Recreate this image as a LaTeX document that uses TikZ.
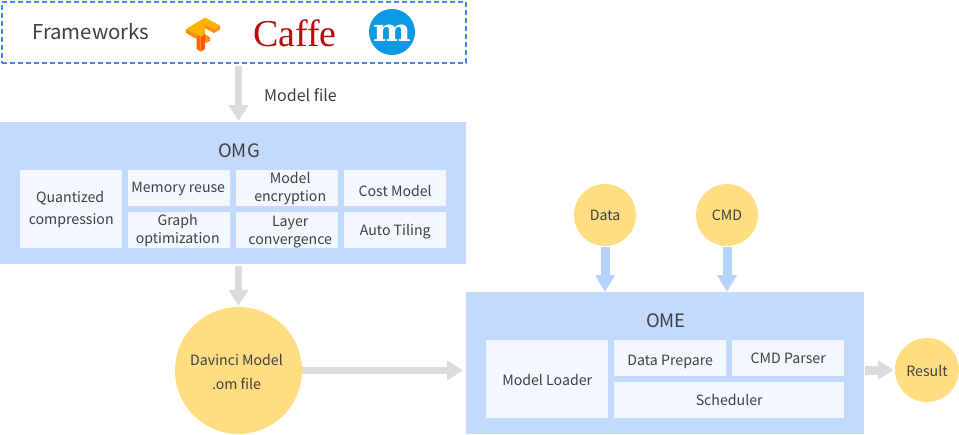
\documentclass[tikz,border=0pt]{standalone}
\usepackage{fontspec}
\setmainfont{Noto Sans CJK SC}
\newfontfamily\logofont{Liberation Serif}
\newfontfamily\mfont{DejaVu Serif}
\usetikzlibrary{arrows.meta}
\definecolor{txt}{HTML}{3C4043}
\definecolor{blockblue}{HTML}{C4D9FE}
\definecolor{innerblue}{HTML}{F3F8FF}
\definecolor{circyellow}{HTML}{FFDD80}
\definecolor{arrgray}{HTML}{DCDCDC}
\definecolor{arrblue}{HTML}{B5D2FF}
\definecolor{dashblue}{HTML}{3F86F7}
\definecolor{caffered}{HTML}{B80B0B}
\definecolor{mblue}{HTML}{0C9BE3}
\definecolor{tfyellow}{HTML}{FFB300}
\definecolor{tforange}{HTML}{FF9100}
\definecolor{tfdark}{HTML}{FF6A00}
\tikzset{
  block/.style={rectangle, fill=blockblue, inner sep=0pt, anchor=north west},
  inner/.style={rectangle, fill=innerblue, inner sep=0pt, anchor=north west, align=center, text=txt, font=\fontsize{14.15}{18}\selectfont},
  single/.style={text height=14pt, text depth=3pt},
  circ/.style={circle, fill=circyellow, inner sep=0pt, align=center, text=txt, font=\fontsize{14.15}{18}\selectfont},
  head/.style={text=txt, inner sep=0pt, font=\fontsize{18.5}{22}\selectfont},
  grayarrow/.style={draw=arrgray, line width=7.5pt, -{Triangle[width=19pt,length=16pt]}},
  bluearrow/.style={draw=arrblue, line width=9pt, -{Triangle[width=19pt,length=17pt]}},
}
\begin{document}
\begin{tikzpicture}[x=1pt,y=-1pt]
	\useasboundingbox (0,0) rectangle (959,434);
	
	% frameworks
	\node [rectangle, draw=dashblue, line width=2.4pt, dash pattern=on 5pt off 3pt, inner sep=0pt, anchor=north west, minimum width=464pt, minimum height=61pt] (fw) at (1,1) {};
	\node [text=txt, inner sep=0pt, anchor=west, font=\fontsize{20.4}{24}\selectfont] (fwtext) at (32,32) {Frameworks};
	\node [text=caffered, inner sep=0pt, font=\fontsize{38}{46}\logofont] (caffe) at (295,33) {Caffe};
	\node [circle, fill=mblue, inner sep=0pt, minimum size=46pt] (mlogo) at (392,32) {};
	\node [text=white, inner sep=0pt, font=\fontsize{31}{36}\mfont\bfseries] (mletter) at (392,33.5) {\scalebox{1.15}[1]{m}};
	
	% tf logo
	\fill [tfyellow] (186,29) -- (205,17.5) -- (220,25.5) -- (214,29) -- (205,24) -- (205,34.3) -- (196.7,34.3) -- (192,32) -- cycle;
	\fill [tforange] (186,29) -- (196.7,34.3) -- (196.7,39) -- (186,33) -- cycle;
	\fill [tforange] (205,24) -- (214,29) -- (220,25.5) -- (220,29.5) -- (214,33) -- (205,28) -- cycle;
	\fill [tfyellow] (196.7,34.3) -- (205,28) -- (205,34.3) -- (200.7,36.7) -- cycle;
	\fill [tfdark] (196.7,34.3) -- (200.7,36.7) -- (200.7,51.7) -- (196.7,49) -- cycle;
	\fill [tfdark!85!red] (200.7,36.7) -- (205,34.3) -- (205,49) -- (200.7,51.7) -- cycle;
	\fill [tforange] (205,34.3) -- (210,37.3) -- (210,41) -- (205,43.3) -- cycle;
	
	\node [inner, font=\fontsize{16}{18}\selectfont, anchor=west, fill=none] (mf) at (264,95) {Model file};
	
	% omg
	\node [block, minimum width=466pt, minimum height=142pt] (omg) at (0,122) {};
	\node [head] (omgtext) at (239,151) {OMG};
	\node [inner, minimum width=102pt, minimum height=78pt, font=\fontsize{14.15}{22}\selectfont] (qc) at (20,170) {Quantized\hspace*{2pt}\\compression};
	\node [inner, single, text height=12pt, minimum width=102pt, minimum height=36pt] (mr) at (128,170) {Memory reuse\hspace*{2pt}};
	\node [inner, minimum width=102pt, minimum height=36pt] (me) at (236,170) {\hspace*{6pt}Model\\\hspace*{6pt}encryption};
	\node [inner, single, text height=19pt, minimum width=102pt, minimum height=36pt] (cm) at (344,170) {Cost Model};
	\node [inner, minimum width=102pt, minimum height=36pt] (go) at (128,212) {Graph\hspace*{3pt}\\optimization\hspace*{3pt}};
	\node [inner, minimum width=102pt, minimum height=36pt] (lc) at (236,212) {\rule{0pt}{14pt}\hspace*{6pt}Layer\\\hspace*{6pt}convergence};
	\node [inner, single, minimum width=102pt, minimum height=36pt] (at) at (344,212) {Auto Tiling};
	
	\node [circ, minimum size=127pt] (dv) at (238.5,370.5) {\rule{0pt}{15pt}Davinci Model\hspace*{4pt}\\[6pt].om file\hspace*{4pt}};
	
	% ome
	\node [block, minimum width=398pt, minimum height=142pt] (ome) at (466,292) {};
	\node [head] (ometext) at (666,321) {OME};
	\node [inner, single, text height=16pt, minimum width=122pt, minimum height=78pt] (ml) at (486,340) {Model Loader};
	\node [inner, single, text height=18pt, minimum width=112pt, minimum height=36pt] (dp) at (614,340) {Data Prepare};
	\node [inner, single, minimum width=112pt, minimum height=36pt] (cp) at (732,340) {CMD Parser};
	\node [inner, single, minimum width=230pt, minimum height=36pt] (sc) at (614,382) {Scheduler};
	
	\node [circ, single, minimum size=62pt] (data) at (605,215) {Data};
	\node [circ, single, minimum size=62pt] (cmd) at (727,215) {CMD};
	\node [circ, single, text height=15pt, minimum size=64pt] (res) at (927,370) {Result};
	
	\draw [grayarrow, shorten <=2pt, shorten >=1pt] (fw.south -| dv.north) -- (omg.north -| dv.north);
	\draw [grayarrow, shorten <=2pt, shorten >=1pt] (omg.south -| dv.north) -- (dv.north);
	\draw [grayarrow, shorten >=3pt] (dv.east) -- (dv.east -| ome.west);
	\draw [bluearrow, shorten <=1pt] (data.south) -- (data.south |- ome.north);
	\draw [bluearrow, shorten <=1pt] (cmd.south) -- (cmd.south |- ome.north);
	\draw [grayarrow, line width=9pt, -{Triangle[width=19pt,length=16pt]}, shorten <=1pt, shorten >=1pt] (ome.east |- res.west) -- (res.west);
\end{tikzpicture}
\end{document}
